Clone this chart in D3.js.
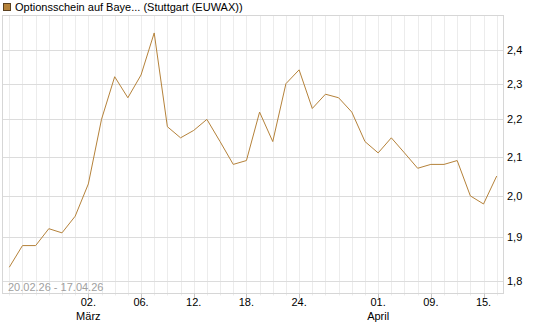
<!DOCTYPE html>
<html>
<head>
<meta charset="utf-8">
<script src="https://cdnjs.cloudflare.com/ajax/libs/d3/7.8.5/d3.min.js"></script>
<style>
  body { margin: 0; background: #fff; }
  text { font-family: "Liberation Sans", Arial, sans-serif; }
</style>
</head>
<body>
<div class="chart"></div>
<script>
var width = 545, height = 327;

// trading days 20.02.26 - 16.04.26
var dates = ["20.02", "23.02", "24.02", "25.02", "26.02", "27.02",
    "02.03", "03.03", "04.03", "05.03", "06.03",
    "09.03", "10.03", "11.03", "12.03", "13.03",
    "16.03", "17.03", "18.03", "19.03", "20.03",
    "23.03", "24.03", "25.03", "26.03", "27.03",
    "30.03", "31.03", "01.04", "02.04",
    "07.04", "08.04", "09.04", "10.04",
    "13.04", "14.04", "15.04", "16.04"];
var prices = [1.83, 1.88, 1.88, 1.92, 1.91, 1.95,
    2.03, 2.20, 2.32, 2.26, 2.325,
    2.45, 2.18, 2.15, 2.17, 2.20,
    2.14, 2.08, 2.09, 2.22, 2.14,
    2.30, 2.34, 2.23, 2.27, 2.26,
    2.22, 2.14, 2.11, 2.15,
    2.11, 2.07, 2.08, 2.08,
    2.09, 2.00, 1.98, 2.05];
var tickDates = ["02.03", "06.03", "12.03", "18.03", "24.03", "01.04", "09.04", "15.04"];
var tickLabels = ["02.", "06.", "12.", "18.", "24.", "01.", "09.", "15."];
var monthLabels = {"02.03": "März", "01.04": "April"};
var yTicks = [1.8, 1.9, 2.0, 2.1, 2.2, 2.3, 2.4];
var seriesName = "Optionsschein auf Baye... (Stuttgart (EUWAX))";
var rangeText = "20.02.26 - 17.04.26";

var lineColor = "#b5823a";
var plot = {left: 2.5, right: 503.5, top: 15.5, bottom: 293.5};

var svg = d3.select('.chart')
    .append('svg')
    .attr('width', width)
    .attr('height', height);

var x = d3.scaleLinear()
    .domain([0, dates.length - 1])
    .range([9.3, 496.7]);

var y = d3.scaleLog()
    .domain([1.8, 2.4])
    .range([280.5, 49.5]);

// vertical grid, one per trading day
svg.append('g').selectAll('line')
    .data(dates)
    .enter()
    .append('line')
    .attr('x1', (d, i) => Math.round(x(i)) + 0.5)
    .attr('x2', (d, i) => Math.round(x(i)) + 0.5)
    .attr('y1', plot.top)
    .attr('y2', plot.bottom + 2)
    .attr('stroke', '#ececec');

// horizontal grid
svg.append('g').selectAll('line')
    .data(yTicks)
    .enter()
    .append('line')
    .attr('x1', plot.left)
    .attr('x2', plot.right)
    .attr('y1', d => Math.round(y(d)) + 0.5)
    .attr('y2', d => Math.round(y(d)) + 0.5)
    .attr('stroke', '#dcdcdc');

// frame
svg.append('rect')
    .attr('x', plot.left)
    .attr('y', plot.top)
    .attr('width', plot.right - plot.left)
    .attr('height', plot.bottom - plot.top)
    .attr('fill', 'none')
    .attr('stroke', '#d6d6d6');

// y labels
svg.append('g').selectAll('text')
    .data(yTicks)
    .enter()
    .append('text')
    .attr('x', 507)
    .attr('y', d => y(d) + 4)
    .attr('font-size', '11px')
    .attr('fill', '#000')
    .text(d => d3.format('.1f')(d).replace('.', ','));

// x ticks and labels
var xi = d => dates.indexOf(d);
svg.append('g').selectAll('line')
    .data(tickDates)
    .enter()
    .append('line')
    .attr('x1', d => Math.round(x(xi(d))) + 0.5)
    .attr('x2', d => Math.round(x(xi(d))) + 0.5)
    .attr('y1', plot.bottom)
    .attr('y2', plot.bottom + 5)
    .attr('stroke', '#c8c8c8');

svg.append('g').selectAll('text')
    .data(tickDates)
    .enter()
    .append('text')
    .attr('x', d => x(xi(d)))
    .attr('y', 306)
    .attr('text-anchor', 'middle')
    .attr('font-size', '11px')
    .text((d, i) => tickLabels[i]);

svg.append('g').selectAll('text')
    .data(tickDates.filter(d => monthLabels[d]))
    .enter()
    .append('text')
    .attr('x', d => x(xi(d)))
    .attr('y', 320)
    .attr('text-anchor', 'middle')
    .attr('font-size', '11px')
    .text(d => monthLabels[d]);

// date range caption
svg.append('text')
    .attr('x', 8)
    .attr('y', 291)
    .attr('font-size', '11px')
    .attr('fill', '#a0a0a0')
    .text(rangeText);

// price line
var line = d3.line()
    .x((d, i) => x(i))
    .y(d => y(d));

svg.append('path')
    .datum(prices)
    .attr('d', line)
    .attr('fill', 'none')
    .attr('stroke', lineColor)
    .attr('stroke-width', 1);

// legend
svg.append('rect')
    .attr('x', 3.5)
    .attr('y', 3.5)
    .attr('width', 7)
    .attr('height', 7)
    .attr('fill', lineColor)
    .attr('stroke', '#5a4020');

svg.append('text')
    .attr('x', 15)
    .attr('y', 11)
    .attr('font-size', '11px')
    .text(seriesName);
</script>
</body>
</html>
